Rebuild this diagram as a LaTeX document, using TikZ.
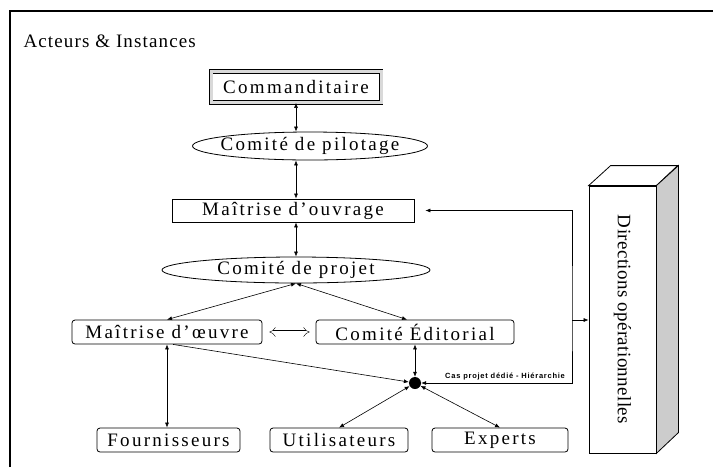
\documentclass[tikz,border=0pt]{standalone}
\usepackage{fontspec}
\setmainfont{Liberation Serif}
\newfontfamily\boxfont[LetterSpace=12]{Liberation Serif}
\newfontfamily\titlefont[LetterSpace=6]{Liberation Serif}
\newfontfamily\notefont[LetterSpace=10]{Liberation Sans}
\usetikzlibrary{positioning,shapes.geometric,calc,arrows.meta}

\begin{document}
\begin{tikzpicture}[x=1pt,y=-1pt,>={Latex[length=5pt,width=4pt]},
box/.style={draw,thick,fill=white,inner sep=0pt,minimum height=24pt,
  font=\boxfont\fontsize{19}{21}\selectfont},
rbox/.style={box,rounded corners=3pt},
oval/.style={box,ellipse},
link/.style={<->,semithick}]
\useasboundingbox (0,0) rectangle (713,467);
\draw[line width=1.2pt] (10,467) -- (10,11) -- (713,11);
\node[anchor=west,font=\titlefont\fontsize{19}{21}\selectfont] (title) at (20,41) {Acteurs \& Instances};

% pilotage
\node[box,line width=0.8pt,double=gray!30,double distance=3pt,minimum width=170pt,minimum height=31pt] (cmd) at (296,87) {Commanditaire};
\node[oval,inner xsep=-8pt,inner ysep=-2pt,minimum width=235pt,minimum height=28pt] (pil) at (310,146) {Comité de pilotage};
\node[box,minimum width=242pt,minimum height=23pt] (mouv) at (293,210.5) {Maîtrise d’ouvrage};
\node[oval,inner ysep=-2pt,minimum width=268pt,minimum height=26pt] (cproj) at (296,270) {Comité de projet};
\node[rbox,minimum width=190pt] (moe) at (167,332) {Maîtrise d’\oe uvre};
\node[rbox,minimum width=198pt] (ced) at (415,332) {Comité Éditorial};
\node[circle,fill,inner sep=0pt,minimum size=12pt] (dot) at (415,383) {};
\node[rbox,minimum width=143pt] (four) at (168.5,440) {Fournisseurs};
\node[rbox,minimum width=138pt] (util) at (339,440) {Utilisateurs};
\node[rbox,minimum width=136pt] (exp) at (500,440) {Experts};

% directions
\node[draw,thick,fill=white,inner sep=0pt,minimum width=67pt,minimum height=267pt] (dir) at (622.5,319.5)
  {\rotatebox{-90}{\fontspec{Liberation Serif}[LetterSpace=2]\fontsize{19}{21}\selectfont Directions opérationnelles}};
\draw[thick,fill=white] (dir.north west) -- ++(22,-20) -- ++(67,0) -- (dir.north east) -- cycle;
\draw[thick,fill=gray!40] (dir.north east) -- ++(22,-20) -- ++(0,267) -- (dir.south east) -- cycle;

\draw[link] (cmd.south) -- (cmd.south |- pil.north);
\draw[link] (cmd.south |- pil.south) -- (cmd.south |- mouv.north);
\draw[link] (cmd.south |- mouv.south) -- (cmd.south |- cproj.north);
\draw[link] (cproj.south) -- (moe.north);
\draw[link] (cproj.south) -- ([xshift=-8pt]ced.north);
\draw[double,double distance=3pt,{Implies}-{Implies},shorten <=7pt,shorten >=6pt] (moe) -- (ced);
\draw[link] (moe.south) -- (moe.south |- four.north);
\draw[->,semithick] ([xshift=6pt]moe.south) -- (dot);
\draw[link] (ced.south) -- (dot);
\draw[link] (dot) -- (util.north);
\draw[link] (dot) -- (exp.north);
\coordinate (jct) at (572,320);
\draw[link] (dot) -| (jct) |- ([xshift=11pt]mouv.east);
\draw[->,semithick] (jct) -- (dir.west |- jct);
\node[anchor=south west,inner sep=1pt,font=\notefont\bfseries\fontsize{7.5}{8}\selectfont] (note) at (444,381) {Cas projet dédié - Hiérarchie};
\end{tikzpicture}
\end{document}
